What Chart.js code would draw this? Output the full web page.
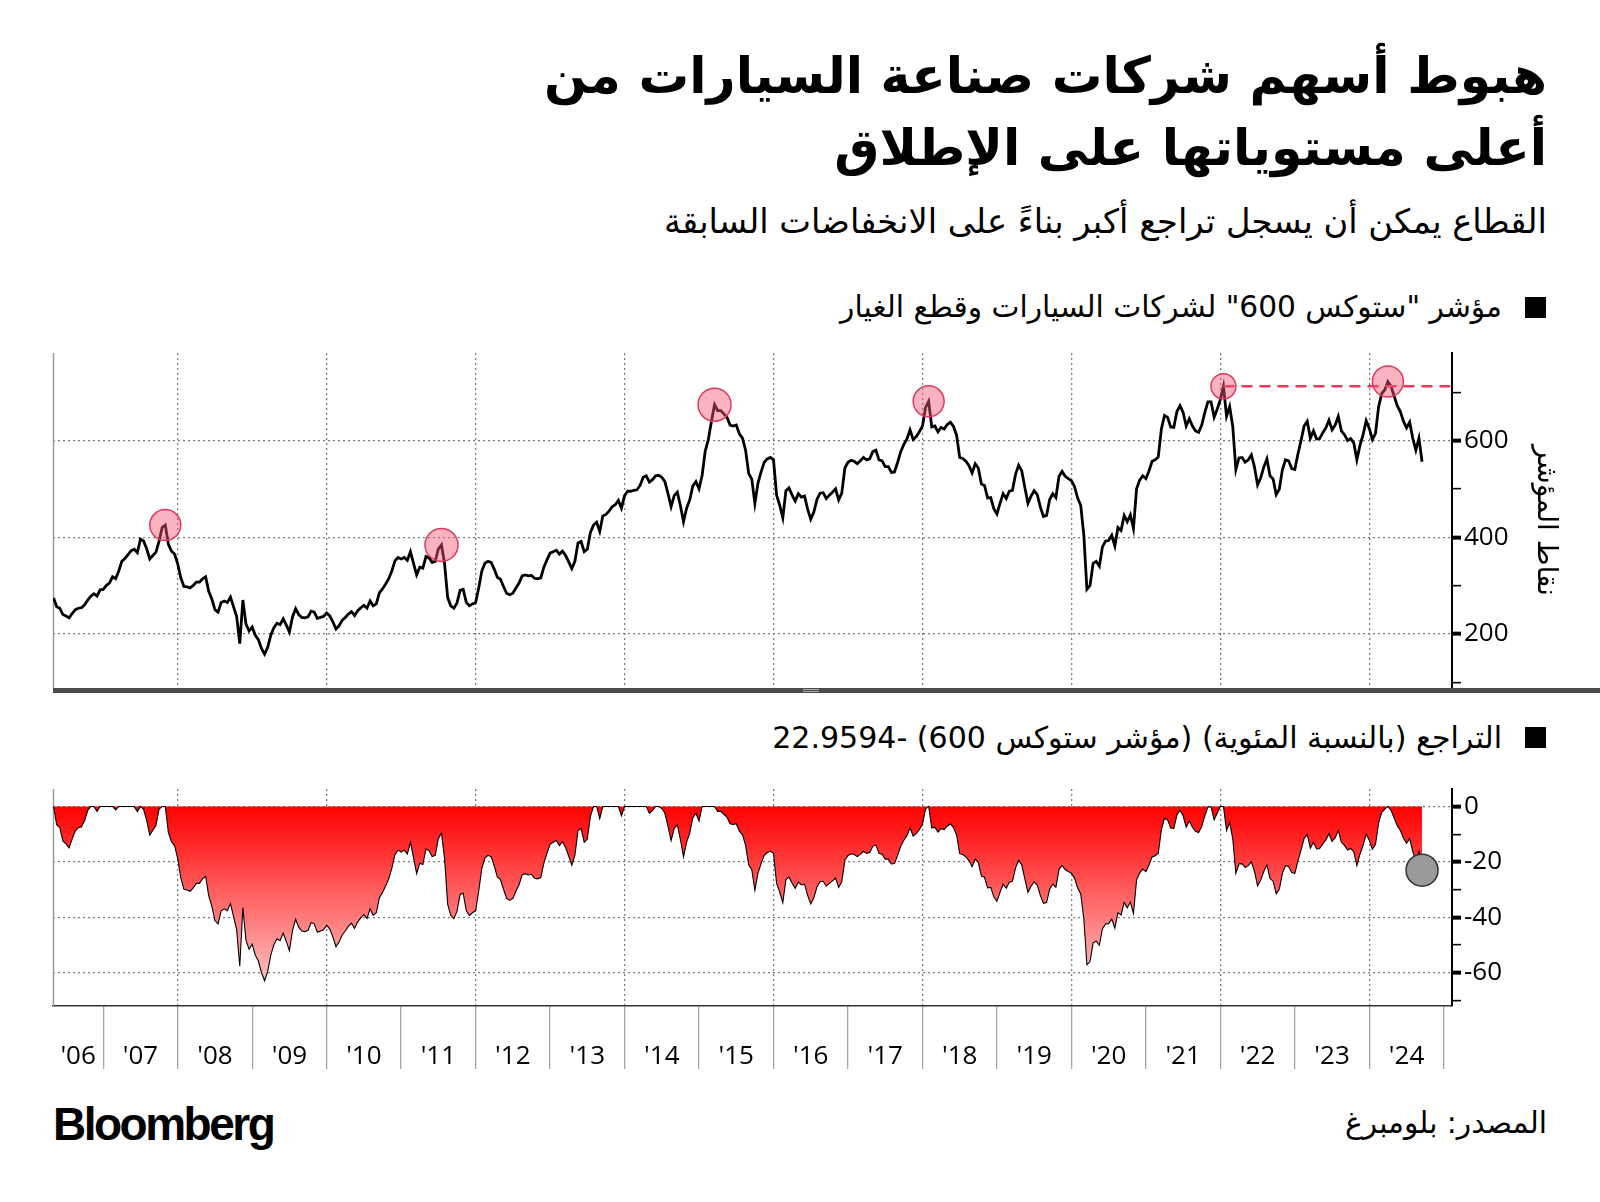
<!DOCTYPE html>
<html lang="ar">
<head>
<meta charset="utf-8">
<title>Stoxx 600 Autos drawdown</title>
<script src="https://cdn.jsdelivr.net/npm/chart.js@4.4.1/dist/chart.umd.min.js"></script>
<style>
  html, body { margin: 0; padding: 0; background: #fff; }
  body { position: relative; width: 1600px; height: 1202px; overflow: hidden; font-family: "DejaVu Sans", sans-serif; color: #000; }
  .txt { position: absolute; right: 53px; direction: rtl; white-space: nowrap; line-height: 1; }
  .title { font-weight: bold; font-size: 52px; }
  #sub { font-size: 30px; }
  .legend { right: 98px; font-size: 27px; }
  .swatch { position: absolute; left: 1525px; width: 21px; height: 21px; background: #000; }
  #source { font-size: 28px; }
  #brand { position: absolute; left: 53px; top: 1101px; font-family: "Liberation Sans", Arial, sans-serif; font-weight: bold; font-size: 46px; letter-spacing: -2.5px; line-height: 1; }
  canvas { position: absolute; left: 0; }
  #indexChart { top: 330px; }
  #drawChart { top: 770px; }
  #rule { position: absolute; left: 53px; top: 688px; width: 1547px; height: 5px; background: #4a4a4a; z-index: 2; }
  #grip { position: absolute; left: 803px; top: 689px; width: 16px; height: 1px; border-top: 1px solid #aaa; border-bottom: 1px solid #aaa; z-index: 3; }
</style>
</head>
<body>
<div class="txt title" id="title1">هبوط أسهم شركات صناعة السيارات من</div>
<div class="txt title" id="title2">أعلى مستوياتها على الإطلاق</div>
<div class="txt" id="sub">القطاع يمكن أن يسجل تراجع أكبر بناءً على الانخفاضات السابقة</div>

<div class="swatch" style="top:297px"></div>
<div class="txt legend" id="legend1">مؤشر "ستوكس 600" لشركات السيارات وقطع الغيار</div>
<canvas id="indexChart" width="1600" height="380"></canvas>
<div id="rule"></div><div id="grip"></div>

<div class="swatch" style="top:727px"></div>
<div class="txt legend" id="legend2">التراجع (بالنسبة المئوية) (مؤشر ستوكس 600) -22.9594</div>
<canvas id="drawChart" width="1600" height="310"></canvas>

<div id="brand">Bloomberg</div>
<div class="txt" id="source">المصدر: بلومبرغ</div>

<script>
// Stoxx 600 Automobiles & Parts, read twice a month from May 2006
const seriesStart = 2006 + 4 / 12
const stepYears = 1 / 24
const indexValues = [
  274, 256, 253, 240, 237, 233, 242, 250, 253, 254,
  260, 270, 278, 283, 278, 291, 292, 300, 305, 318,
  314, 330, 350, 356, 364, 372, 375, 368, 396, 392,
  376, 355, 362, 369, 392, 420, 425, 385, 371, 365,
  345, 316, 298, 297, 295, 300, 307, 307, 314, 318,
  288, 272, 250, 245, 265, 268, 265, 276, 256, 236,
  180, 270, 220, 206, 214, 197, 188, 170, 158, 172,
  197, 213, 222, 219, 231, 218, 204, 235, 252, 240,
  234, 233, 235, 247, 245, 232, 234, 236, 243, 237,
  225, 210, 217, 228, 234, 241, 246, 238, 248, 254,
  259, 253, 268, 258, 262, 285, 293, 303, 314, 330,
  351, 358, 355, 358, 352, 370, 346, 322, 338, 336,
  360, 357, 348, 350, 376, 384, 345, 275, 258, 253,
  264, 290, 292, 265, 258, 262, 265, 295, 330, 346,
  350, 348, 334, 317, 313, 298, 284, 281, 284, 295,
  305, 320, 322, 320, 321, 315, 314, 316, 338, 353,
  367, 370, 373, 365, 371, 362, 349, 335, 350, 388,
  391, 370, 375, 410, 425, 431, 412, 444, 447, 454,
  463, 467, 476, 460, 486, 495, 495, 497, 498, 507,
  524, 527, 514, 519, 527, 528, 524, 515, 490, 463,
  486, 493, 465, 432, 460, 477, 506, 515, 500, 528,
  578, 602, 640, 674, 662, 662, 655, 648, 632, 630,
  632, 614, 605, 580, 532, 520, 470, 512, 535, 555,
  562, 565, 560, 487, 466, 440, 496, 502, 487, 475,
  490, 483, 485, 458, 437, 452, 478, 491, 492, 480,
  487, 493, 500, 477, 491, 543, 555, 559, 557, 552,
  558, 565, 560, 562, 577, 580, 560, 558, 546, 546,
  534, 535, 555, 577, 592, 603, 622, 602, 608, 618,
  630, 668, 681, 628, 630, 618, 627, 624, 633, 638,
  629, 611, 565, 563, 557, 548, 533, 552, 543, 510,
  507, 481, 482, 459, 448, 470, 490, 480, 495, 497,
  530, 549, 537, 503, 470, 485, 496, 488, 462, 443,
  445, 478, 490, 482, 526, 536, 526, 521, 517, 505,
  481, 466, 405, 292, 300, 346, 350, 340, 380, 392,
  393, 404, 382, 420, 414, 445, 432, 446, 418, 500,
  518, 527, 521, 537, 557, 560, 566, 624, 652, 648,
  628, 627, 660, 672, 658, 630, 645, 630, 620, 617,
  632, 658, 680, 680, 648, 665, 685, 712, 650, 670,
  629, 540, 564, 565, 555, 560, 570, 545, 508, 523,
  545, 562, 527, 520, 488, 499, 540, 560, 558, 542,
  540, 572, 600, 630, 640, 605, 620, 603, 604, 616,
  626, 642, 622, 632, 650, 620, 612, 600, 604, 595,
  560, 590, 612, 641, 625, 602, 615, 670, 697, 705,
  722, 712, 692, 672, 660, 640, 626, 638, 605, 580,
  605, 556,
]

// highs marked with circles, and the one the dashed line starts from
const peakIdx = [36, 125, 213, 282, 377, 430]
const athIdx = 377

const yearLabels = ["'06", "'07", "'08", "'09", "'10", "'11", "'12", "'13", "'14", "'15",
  "'16", "'17", "'18", "'19", "'20", "'21", "'22", "'23", "'24"]
const firstLabelYear = 2006
const yearBounds = [2007, 2008, 2009, 2010, 2011, 2012, 2013, 2014, 2015, 2016,
  2017, 2018, 2019, 2020, 2021, 2022, 2023, 2024, 2025]
const indexTicks = [100, 200, 300, 400, 500, 600, 700]
const drawdownTicks = [-70, -60, -50, -40, -30, -20, -10, 0]

// axis ranges
const xMin = 2006.3256
const xMax = 2025.1104

const peakRadii = [15.5, 16.5, 16.5, 15.5, 12.5, 15.5]
const gridColor = "#7d7d7d"

Chart.defaults.font.family = "'Open Sans', sans-serif"
Chart.defaults.color = "#000"

const dates = indexValues.map((v, i) => seriesStart + i * stepYears)
const indexPoints = indexValues.map((v, i) => ({ x: dates[i], y: v }))

let runMax = 0
const drawdownPoints = indexValues.map((v, i) => {
  runMax = Math.max(runMax, v)
  return { x: dates[i], y: (v / runMax - 1) * 100 }
})

const peakPoints = peakIdx.map((k) => ({ x: dates[k], y: indexValues[k] }))
const athPoints = [
  { x: dates[athIdx], y: indexValues[athIdx] },
  { x: xMax, y: indexValues[athIdx] },
]

// year labels sit in the middle of the visible part of each year
const labelTicks = yearLabels.map((l, i) => {
  const y0 = Math.max(firstLabelYear + i, xMin)
  const y1 = Math.min(firstLabelYear + i + 1, xMax)
  return (y0 + y1) / 2
})

// thin grey rule on the left edge of each plot
const leftRule = {
  id: "leftRule",
  beforeDatasetsDraw(chart) {
    const { ctx, chartArea } = chart
    ctx.save()
    ctx.strokeStyle = "#9c9c9c"
    ctx.lineWidth = 1.5
    ctx.beginPath()
    ctx.moveTo(chartArea.left + 0.5, chartArea.top)
    ctx.lineTo(chartArea.left + 0.5, chartArea.bottom)
    ctx.stroke()
    ctx.restore()
  },
}

function noPad(scale) {
  scale.paddingTop = 0
  scale.paddingBottom = 0
  scale.paddingLeft = 0
  scale.paddingRight = 0
}

function isEvenYear(ctx) {
  return ctx.tick && Number.isInteger(ctx.tick.value) && ctx.tick.value % 2 === 0
}

// Index chart
new Chart(document.getElementById("indexChart"), {
  type: "line",
  data: {
    datasets: [
      {
        data: peakPoints,
        showLine: false,
        pointRadius: (c) => peakRadii[c.dataIndex],
        pointBackgroundColor: "rgba(243, 88, 118, 0.45)",
        pointBorderColor: "#dd3a5c",
        pointBorderWidth: 1.5,
        order: 0,
      },
      {
        data: athPoints,
        borderColor: "#e8385a",
        borderWidth: 2.5,
        borderDash: [11, 7],
        pointRadius: 0,
        order: 1,
      },
      {
        data: indexPoints,
        borderColor: "#000",
        borderWidth: 2.8,
        pointRadius: 0,
        tension: 0,
        order: 2,
      },
    ],
  },
  options: {
    responsive: false,
    animation: false,
    events: [],
    layout: { padding: { left: 53, top: 23, right: 0, bottom: 22 } },
    plugins: { legend: { display: false }, tooltip: { enabled: false } },
    scales: {
      x: {
        type: "linear",
        min: xMin,
        max: xMax,
        afterBuildTicks: (s) => { s.ticks = yearBounds.map((v) => ({ value: v })) },
        afterFit: (s) => { s.height = 0; noPad(s) },
        ticks: { display: false },
        grid: { color: (c) => (isEvenYear(c) ? gridColor : "transparent"), lineWidth: 1.3, drawTicks: false },
        border: { display: false, dash: [2, 3] },
      },
      y: {
        position: "right",
        min: 88,
        max: 781,
        afterBuildTicks: (s) => { s.ticks = indexTicks.map((v) => ({ value: v })) },
        afterFit: (s) => { s.width = 148; noPad(s) },
        ticks: {
          autoSkip: false,
          callback: (v) => (v % 200 === 0 ? String(v) : ""),
          font: { size: 26 },
          color: "#000",
          padding: 3,
        },
        grid: {
          color: (c) => (c.tick.value % 200 === 0 ? gridColor : "transparent"),
          lineWidth: 1.3,
          tickColor: "#000",
          tickLength: 9,
          tickWidth: (c) => (c.tick.value % 200 === 0 ? 4 : 1.6),
        },
        border: { color: "#000", width: 2, dash: [2, 3] },
        title: {
          display: true,
          text: "نقاط المؤشر",
          font: { family: "'DejaVu Sans', sans-serif", size: 28 },
          color: "#000",
          padding: { top: 38, bottom: 0 },
        },
      },
    },
  },
  plugins: [leftRule],
})

function drawdownFill(context) {
  const chart = context.chart
  if (!chart.chartArea) return "rgba(255, 0, 0, 0.6)"
  const y = chart.scales.y
  const g = chart.ctx.createLinearGradient(0, y.getPixelForValue(0), 0, y.getPixelForValue(-65))
  g.addColorStop(0, "#ff0000")
  g.addColorStop(1, "#ffc6c6")
  return g
}

const lastIdx = drawdownPoints.length - 1

// Drawdown chart
new Chart(document.getElementById("drawChart"), {
  type: "line",
  data: {
    datasets: [
      {
        data: drawdownPoints,
        borderColor: "#000",
        borderWidth: 1.1,
        backgroundColor: drawdownFill,
        fill: "origin",
        tension: 0,
        pointRadius: (c) => (c.dataIndex === lastIdx ? 16 : 0),
        pointBackgroundColor: "#9a9a9a",
        pointBorderColor: "#333",
        pointBorderWidth: 1.5,
      },
    ],
  },
  options: {
    responsive: false,
    animation: false,
    events: [],
    layout: { padding: { left: 53, top: 19, right: 0, bottom: 0 } },
    plugins: { legend: { display: false }, tooltip: { enabled: false } },
    scales: {
      x: {
        type: "linear",
        min: xMin,
        max: xMax,
        afterBuildTicks: (s) => {
          s.ticks = yearBounds.concat(labelTicks).sort((a, b) => a - b).map((v) => ({ value: v }))
        },
        afterFit: (s) => { s.height = 74; noPad(s) },
        ticks: {
          autoSkip: false,
          maxRotation: 0,
          padding: -28,
          font: { size: 26 },
          color: "#000",
          callback: (v) => (Number.isInteger(v) ? "" : yearLabels[Math.floor(v) - firstLabelYear]),
        },
        grid: {
          color: (c) => (isEvenYear(c) ? gridColor : "transparent"),
          lineWidth: 1.3,
          tickLength: 63,
          tickColor: (c) => (Number.isInteger(c.tick.value) ? "#a5a5a5" : "transparent"),
          tickWidth: 1.3,
          tickBorderDash: [],
        },
        border: { color: "#333", width: 1.5, dash: [2, 3] },
      },
      y: {
        position: "right",
        min: -72,
        max: 6.3,
        afterBuildTicks: (s) => { s.ticks = drawdownTicks.map((v) => ({ value: v })) },
        afterFit: (s) => { s.width = 148; noPad(s) },
        ticks: {
          autoSkip: false,
          callback: (v) => (v % 20 === 0 ? String(v) : ""),
          font: { size: 26 },
          color: "#000",
          padding: 3,
        },
        grid: {
          color: (c) => (c.tick.value % 20 === 0 ? gridColor : "transparent"),
          lineWidth: 1.3,
          tickColor: "#000",
          tickLength: 9,
          tickWidth: (c) => (c.tick.value % 20 === 0 ? 4 : 1.6),
        },
        border: { color: "#000", width: 2, dash: [2, 3] },
      },
    },
  },
  plugins: [leftRule],
})

// size the Arabic text blocks to the widths of the original and centre them vertically
function place(el, width, centerY, size) {
  if (size) {
    el.style.fontSize = size + "px"
  } else {
    const s = parseFloat(getComputedStyle(el).fontSize)
    size = s * width / el.getBoundingClientRect().width
    el.style.fontSize = size.toFixed(2) + "px"
  }
  el.style.top = (centerY - size * 0.5).toFixed(1) + "px"
  return size
}

const titleSize = place(document.getElementById("title1"), 1003, 76)
place(document.getElementById("title2"), 0, 148, titleSize)
place(document.getElementById("sub"), 883, 222)
place(document.getElementById("legend1"), 662, 307)
place(document.getElementById("legend2"), 730, 738)
place(document.getElementById("source"), 202, 1123)
</script>
</body>
</html>
